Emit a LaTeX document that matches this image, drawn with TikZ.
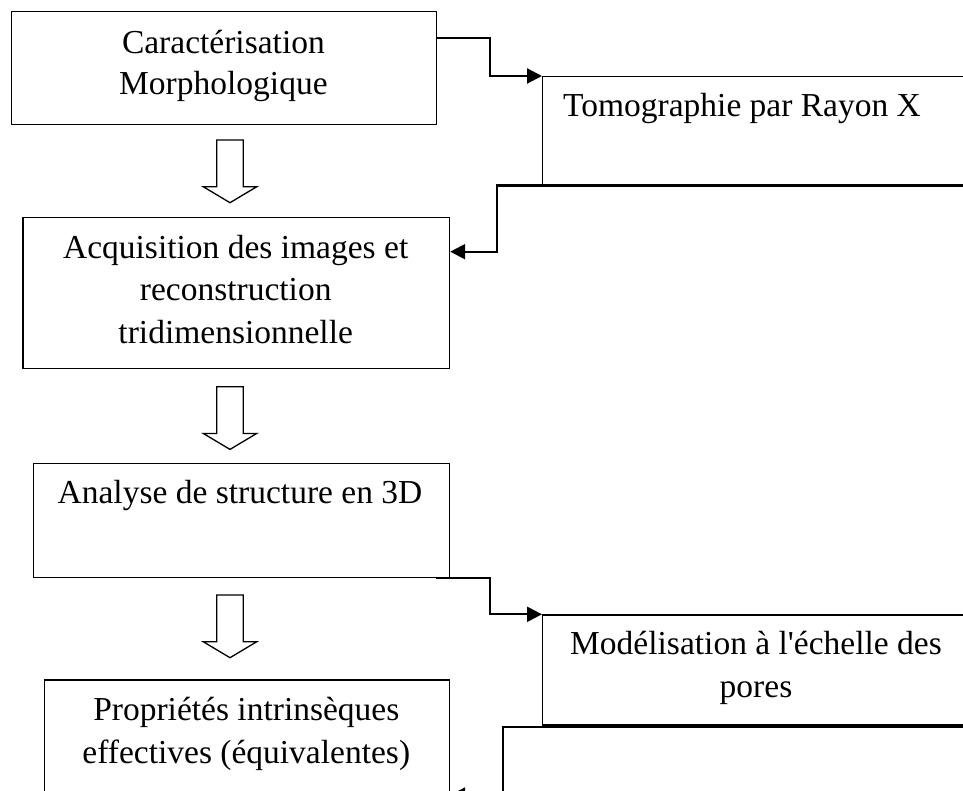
\documentclass[tikz,border=0pt]{standalone}
\usepackage{fontspec}
\setmainfont{Liberation Serif}
\usetikzlibrary{arrows.meta}
\newcommand{\straightquote}{{\XeTeXglyph\XeTeXcharglyph"27\relax}}
\begin{document}
\begin{tikzpicture}[x=1pt,y=-1pt,
  box/.style={draw, line width=1.2pt, rectangle, inner sep=0pt, anchor=north west},
  txt/.style={font=\fontsize{33.5}{43}\selectfont, inner sep=0pt, anchor=base},
  link/.style={line width=2.2pt, line join=miter, -{Triangle[length=15pt,width=15pt]}},
  hollow/.pic={\draw[line width=1.3pt, line join=miter] (-13.3,0) -- (-13.3,46.7) -- (-26.8,46.7) -- (0,62.7) -- (26.8,46.7) -- (13.3,46.7) -- (13.3,0) -- cycle;}]
\useasboundingbox (0,0) rectangle (963,791);
\clip (0,0) rectangle (963,791);
\fill[white] (0,0) rectangle (963,791);
% boxes
\node[box, minimum width=424.7pt, minimum height=113.3pt] (b1) at (11,10.7) {};
\node[box, minimum width=426.7pt, minimum height=151pt] (b2) at (22.3,216.7) {};
\node[box, minimum width=416.3pt, minimum height=114pt] (b3) at (32.7,462.7) {};
\node[box, minimum width=405.4pt, minimum height=150pt] (b4) at (43.6,679.3) {};
\node[box, minimum width=433pt, minimum height=108.3pt] (T) at (542,76) {};
\node[box, minimum width=433pt, minimum height=110pt] (M) at (542,614.3) {};
% texts
\node[txt] (t1a) at (223.4,53.3) {Caractérisation};
\node[txt] (t1b) at (223.4,95) {Morphologique};
\node[txt] (t2a) at (235.7,258.3) {Acquisition des images et};
\node[txt] (t2b) at (235.7,300.7) {reconstruction};
\node[txt] (t2c) at (235.7,343.3) {tridimensionnelle};
\node[txt] (t3) at (240,503.3) {Analyse de structure en 3D};
\node[txt] (t4a) at (246.3,720) {Propriétés intrinsèques};
\node[txt] (t4b) at (246.3,763.3) {effectives (équivalentes)};
\node[txt, anchor=base west] (tT) at (563,116.7) {Tomographie par Rayon X};
\node[txt] (tMa) at (756,654.5) {Modélisation à l\straightquote échelle des};
\node[txt] (tMb) at (756,697.5) {pores};
% hollow arrows
\pic at (230,140) {hollow};
\pic at (230,386.7) {hollow};
\pic at (230,595) {hollow};
% connectors
\draw[link] ([yshift=-27.3pt]b1.north east) -- ++(53,0) |- (T.north west);
\draw[link] (T.south east) -- ++(-479.3,0) |- ([yshift=-35pt]b2.north east);
\draw[link] ([xshift=-14pt]b3.south east) -- ++(53.7,0) |- (M.north west);
\draw[link] ([yshift=-1.7pt]M.south east) -- ++(-473.3,0) |- ([yshift=-115.7pt]b4.north east);
\end{tikzpicture}
\end{document}
